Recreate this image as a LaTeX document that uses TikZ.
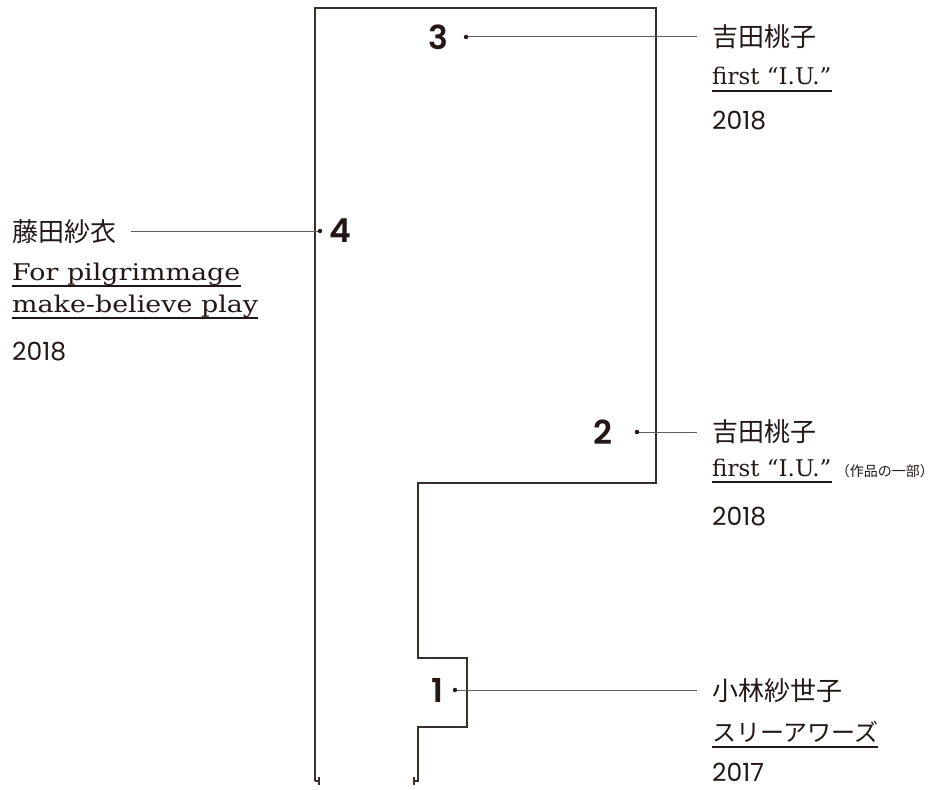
\documentclass[tikz,border=0pt]{standalone}
\usepackage{fontspec}
\newfontfamily\cjk{Noto Sans CJK JP}
\newfontfamily\numfont{Poppins}
\newfontfamily\bignumfont{Poppins}[UprightFont={* SemiBold}]
\newfontfamily\slab{DejaVu Serif}
\newfontfamily\slabwide{DejaVu Serif}[FakeStretch=1.17]
\definecolor{ink}{RGB}{35,24,21}
\tikzset{
  wallline/.style={draw=ink!90, line width=1.1pt},
  leader/.style={draw=ink!70, line width=1pt},
  ulinestyle/.style={draw=ink, line width=1.8pt},
  bignum/.style={font=\bignumfont\fontsize{33}{33}\selectfont, text=ink, inner sep=0pt},
  dot/.style={circle, fill=ink, inner sep=0pt, minimum size=4.5pt},
  artist/.style={font=\cjk\fontsize{26}{26}\selectfont, text=ink, anchor=base west, inner sep=0pt},
  worktitle/.style={font=\slab\fontsize{23}{23}\selectfont, text=ink, anchor=base west, inner sep=0pt},
  worktitlewide/.style={font=\slabwide\fontsize{23}{23}\selectfont, text=ink, anchor=base west, inner sep=0pt},
  worktitlejp/.style={font=\cjk\fontsize{24}{24}\selectfont, text=ink, anchor=base west, inner sep=0pt},
  note/.style={font=\cjk\fontsize{14}{14}\selectfont, text=ink, anchor=base west, inner sep=0pt},
  yeartext/.style={font=\numfont\fontsize{25}{25}\selectfont, text=ink, anchor=base west, inner sep=0pt},
}
\begin{document}
\begin{tikzpicture}[x=1pt,y=-1pt]
  \useasboundingbox (0,0) rectangle (933,789);

  % Grundriss
  \draw[wallline] (315,781) -- (315,8) -- (656,8) -- (656,483) -- (418,483)
    -- (418,658) -- (467,658) -- (467,727) -- (418,727) -- (418,781) -- (414,781);
  \draw[wallline] (315,781) -- (319,781);
  \draw[wallline] (319,777) -- (319,785);
  \draw[wallline] (414,777) -- (414,785);

  % Nummern
  \foreach \n/\x/\y/\dx/\ex in {3/438/37/466/697, 4/340/231/320/131, 2/603/432/637/697, 1/437/690/455/697} {
    \node[bignum] (num\n) at (\x,\y) {\n};
    \node[dot] (dot\n) at (\dx,\y) {};
    \coordinate (end\n) at (\ex,\y);
    \draw[leader] (dot\n) -- (end\n);
  }

  % 3
  \node[artist] (name3) at (712,47) {吉田桃子};
  \node[worktitle] (work3) at (712,85) {first “I.U.”};
  \node[yeartext] (year3) at (712,129) {2018};

  % 4
  \node[artist] (name4) at (12,241) {藤田紗衣};
  \node[worktitlewide] (work4a) at (12,280) {For pilgrimmage};
  \node[worktitlewide] (work4b) at (12,312) {make-believe play};
  \node[yeartext] (year4) at (12,360) {2018};

  % 2
  \node[artist] (name2) at (712,441) {吉田桃子};
  \node[worktitle] (work2) at (712,476) {first “I.U.”};
  \node[note] (note2) at ([xshift=4pt]work2.base east) {（作品の一部）};
  \node[yeartext] (year2) at (712,525) {2018};

  % 1
  \node[artist] (name1) at (712,700) {小林紗世子};
  \node[worktitlejp] (work1) at (712,741) {スリーアワーズ};
  \node[yeartext] (year1) at (712,781) {2017};

  % Unterstriche
  \foreach \w in {work3, work4a, work4b, work2, work1} {
    \draw[ulinestyle] ([yshift=-6pt]\w.base west) -- ([yshift=-6pt]\w.base east);
  }
\end{tikzpicture}
\end{document}
